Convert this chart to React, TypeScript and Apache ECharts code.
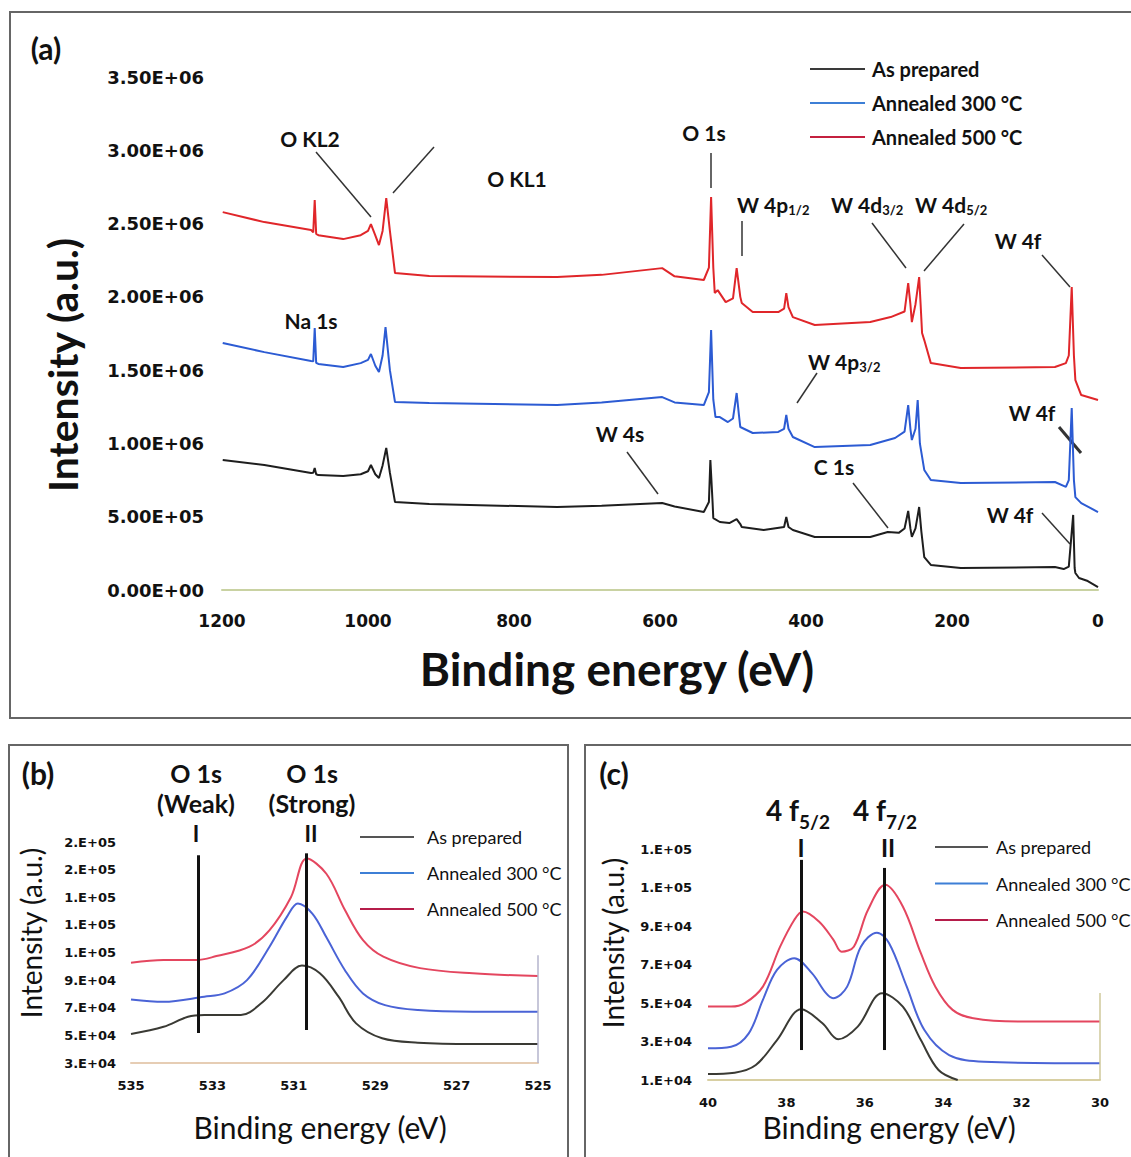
import React, { useEffect, useRef } from 'react';
import * as echarts from 'echarts';

// ---------- DATA ----------
const seriesNames = ['As prepared', 'Annealed 300 °C', 'Annealed 500 °C'];

// Panel (a) survey spectra: [binding energy eV, intensity]
const surveyAsPrepared: number[][] = [
  [1199, 0.887e6], [1142, 0.853e6], [1078, 0.798e6], [1075, 0.8e6], [1073, 0.832e6], [1071, 0.79e6],
  [1068, 0.784e6], [1034, 0.778e6], [1010, 0.79e6], [1000, 0.81e6], [996, 0.853e6], [990, 0.79e6],
  [985, 0.764e6], [980, 0.85e6], [975, 0.969e6], [970, 0.8e6], [963, 0.6e6], [916, 0.587e6],
  [741, 0.566e6], [680, 0.575e6], [597, 0.593e6], [580, 0.57e6], [540, 0.532e6], [533, 0.6e6],
  [531, 0.887e6], [528, 0.6e6], [527, 0.491e6], [518, 0.464e6], [505, 0.457e6], [495, 0.484e6],
  [490, 0.45e6], [488, 0.43e6], [458, 0.409e6], [430, 0.43e6], [427, 0.498e6], [424, 0.43e6],
  [418, 0.409e6], [388, 0.362e6], [312, 0.362e6], [288, 0.396e6], [273, 0.39e6], [265, 0.42e6],
  [260, 0.539e6], [257, 0.42e6], [255, 0.362e6], [250, 0.42e6], [245, 0.566e6], [242, 0.4e6],
  [238, 0.225e6], [229, 0.171e6], [188, 0.15e6], [59, 0.157e6], [47, 0.143e6], [40, 0.16e6],
  [34, 0.512e6], [32, 0.15e6], [31, 0.116e6], [26, 0.082e6], [14, 0.061e6], [0, 0.02e6],
];
const survey300: number[][] = [
  [1199, 1.685e6], [1142, 1.623e6], [1078, 1.562e6], [1075, 1.56e6], [1073, 1.787e6], [1071, 1.55e6],
  [1068, 1.542e6], [1034, 1.521e6], [1010, 1.548e6], [1000, 1.57e6], [996, 1.61e6], [990, 1.53e6],
  [985, 1.487e6], [980, 1.6e6], [976, 1.794e6], [970, 1.5e6], [963, 1.282e6], [916, 1.276e6],
  [741, 1.262e6], [680, 1.28e6], [597, 1.316e6], [580, 1.28e6], [540, 1.262e6], [533, 1.35e6],
  [530, 1.773e6], [527, 1.3e6], [524, 1.18e6], [518, 1.18e6], [507, 1.146e6], [500, 1.17e6],
  [495, 1.344e6], [492, 1.2e6], [490, 1.112e6], [473, 1.071e6], [438, 1.078e6], [430, 1.1e6],
  [427, 1.194e6], [424, 1.1e6], [418, 1.044e6], [388, 0.975e6], [312, 0.989e6], [278, 1.037e6],
  [265, 1.08e6], [260, 1.262e6], [257, 1.1e6], [255, 1.023e6], [250, 1.1e6], [247, 1.296e6],
  [244, 1.0e6], [238, 0.819e6], [229, 0.75e6], [188, 0.73e6], [59, 0.737e6], [44, 0.703e6],
  [40, 0.75e6], [36, 1.241e6], [33, 0.75e6], [31, 0.634e6], [23, 0.593e6], [0, 0.532e6],
];
const survey500: number[][] = [
  [1199, 2.578e6], [1142, 2.51e6], [1078, 2.456e6], [1075, 2.44e6], [1073, 2.66e6], [1071, 2.43e6],
  [1068, 2.421e6], [1034, 2.394e6], [1010, 2.421e6], [1000, 2.45e6], [996, 2.496e6], [990, 2.42e6],
  [985, 2.353e6], [980, 2.45e6], [975, 2.674e6], [970, 2.45e6], [963, 2.162e6], [916, 2.142e6],
  [741, 2.135e6], [680, 2.15e6], [597, 2.196e6], [580, 2.14e6], [540, 2.115e6], [533, 2.2e6],
  [530, 2.681e6], [527, 2.2e6], [525, 2.026e6], [521, 2.046e6], [510, 1.964e6], [500, 1.99e6],
  [495, 2.196e6], [490, 2.0e6], [488, 1.958e6], [473, 1.896e6], [438, 1.896e6], [430, 1.92e6],
  [427, 2.026e6], [424, 1.93e6], [418, 1.862e6], [388, 1.808e6], [312, 1.828e6], [284, 1.862e6],
  [265, 1.9e6], [260, 2.094e6], [257, 1.95e6], [255, 1.828e6], [250, 1.95e6], [245, 2.135e6],
  [243, 1.95e6], [241, 1.753e6], [238, 1.705e6], [229, 1.548e6], [188, 1.514e6], [59, 1.521e6],
  [44, 1.548e6], [40, 1.6e6], [36, 2.067e6], [33, 1.6e6], [31, 1.432e6], [23, 1.33e6], [0, 1.296e6],
];

// Panel (b) O 1s high resolution
const o1sAsPrepared: number[][] = [
  [535, 5.1e4], [534.2, 5.62e4], [533.6, 6.35e4], [533.2, 6.47e4], [532.3, 6.47e4], [531.8, 7.32e4],
  [531.25, 9.0e4], [530.8, 10.05e4], [530.36, 9.49e4], [529.9, 7.8e4], [529.47, 5.87e4],
  [528.83, 4.79e4], [527.95, 4.47e4], [526.6, 4.37e4], [525, 4.37e4],
];
const o1s300: number[][] = [
  [535, 7.6e4], [534.2, 7.43e4], [533.2, 7.8e4], [532.7, 8.04e4], [532.15, 9.0e4], [531.6, 11.4e4],
  [531.17, 13.58e4], [530.9, 14.55e4], [530.54, 13.8e4], [530.2, 12.1e4], [529.74, 9.7e4],
  [529.3, 8.04e4], [528.76, 7.19e4], [527.95, 6.83e4], [526.6, 6.71e4], [525, 6.71e4],
];
const o1s500: number[][] = [
  [535, 10.25e4], [534.2, 10.45e4], [533.4, 10.45e4], [532.9, 10.74e4], [532.1, 11.4e4],
  [531.6, 12.6e4], [531.07, 15.0e4], [530.68, 17.8e4], [530.2, 16.7e4], [529.74, 14.06e4],
  [529.3, 11.9e4], [528.8, 10.7e4], [527.9, 9.87e4], [526.6, 9.49e4], [525, 9.29e4],
];

// Panel (c) W 4f high resolution
const w4fAsPrepared: number[][] = [
  [40, 1.31e4], [39.32, 1.38e4], [38.78, 1.78e4], [38.24, 3.08e4], [37.62, 4.68e4], [37.08, 3.95e4],
  [36.68, 3.12e4], [36.18, 3.78e4], [35.56, 5.52e4], [35.03, 4.82e4], [34.57, 3.08e4],
  [34.12, 1.52e4], [33.63, 1.0e4],
];
const w4f300: number[][] = [
  [40, 2.65e4], [39.41, 2.73e4], [38.96, 3.43e4], [38.6, 5.17e4], [38.24, 6.73e4], [37.8, 7.34e4],
  [37.35, 6.56e4], [36.99, 5.52e4], [36.81, 5.26e4], [36.45, 5.86e4], [36.1, 7.94e4], [35.69, 8.67e4],
  [35.38, 8.12e4], [34.93, 5.86e4], [34.48, 3.6e4], [33.85, 2.3e4], [32.96, 1.95e4], [30, 1.87e4],
];
const w4f500: number[][] = [
  [40, 4.82e4], [39.41, 4.82e4], [39.06, 5.0e4], [38.6, 5.86e4], [38.16, 7.94e4], [37.8, 9.33e4],
  [37.58, 9.77e4], [37.17, 9.25e4], [36.8, 8.3e4], [36.59, 7.68e4], [36.28, 7.94e4], [35.92, 9.85e4],
  [35.48, 11.16e4], [35.03, 10.03e4], [34.57, 7.6e4], [34.2, 5.86e4], [33.76, 4.65e4],
  [33.23, 4.21e4], [32.07, 4.04e4], [30, 4.04e4],
];

// Tick labels
const yTickLabelsA = ['0.00E+00', '5.00E+05', '1.00E+06', '1.50E+06', '2.00E+06', '2.50E+06', '3.00E+06', '3.50E+06'];
const yTickLabelsB = ['3.E+04', '5.E+04', '7.E+04', '9.E+04', '1.E+05', '1.E+05', '1.E+05', '2.E+05', '2.E+05'];
const yTickLabelsC = ['1.E+04', '3.E+04', '5.E+04', '7.E+04', '9.E+04', '1.E+05', '1.E+05'];

// Reference (peak marker) lines in panels (b) and (c): [BE, from, to]
const o1sMarkers = [[533.35, 18.04e4, 5.17e4], [530.7, 18.18e4, 5.39e4]];
const w4fMarkers = [[37.62, 12.46e4, 2.56e4], [35.5, 12.04e4, 2.56e4]];

// ---------- STYLE ----------
const surveyColors = ['#1e1e1e', '#2c5bd3', '#e0262a'];
const hrColors = ['#3a3a34', '#4a63d6', '#e4465f'];
const legendColorsA = ['#3a3a3a', '#3d7fd6', '#c4203f'];
const legendColorsBC = ['#555555', '#3d7fd6', '#b51d4a'];
const TICK_FONT = 'DejaVu Sans';
const TITLE_FONT = 'Lato';

function App() {
  const ref = useRef<HTMLDivElement>(null);

  useEffect(() => {
    if (!ref.current) return;
    const chart = echarts.init(ref.current, undefined, { renderer: 'svg' });

    const fmt = (labels: string[], min: number, step: number) => (v: number) =>
      labels[Math.round((v - min) / step)] ?? '';

    const xAxisCommon = (gridIndex: number, min: number, max: number, interval: number, lineColor: string, fontSize: number, margin: number) => ({
      type: 'value', gridIndex, min, max, interval, inverse: true,
      axisLine: { show: true, lineStyle: { color: lineColor, width: 2 } },
      axisTick: { show: false },
      splitLine: { show: false },
      axisLabel: {
        fontFamily: TICK_FONT, fontWeight: 'bold', fontSize, color: '#111', margin,
        showMinLabel: true, showMaxLabel: true, formatter: (v: number) => String(v),
      },
    });
    const yAxisCommon = (gridIndex: number, min: number, max: number, interval: number, labels: string[], fontSize: number, margin: number) => ({
      type: 'value', gridIndex, min, max, interval,
      axisLine: { show: false },
      axisTick: { show: false },
      splitLine: { show: false },
      axisLabel: { fontFamily: TICK_FONT, fontWeight: 'bold', fontSize, color: '#111', margin, formatter: fmt(labels, min, interval), showMinLabel: true, showMaxLabel: true },
    });

    const mkSeries = (name: string, data: number[][], xi: number, color: string, smooth: number | boolean, extra: any = {}) => ({
      name, type: 'line', xAxisIndex: xi, yAxisIndex: xi, data, smooth,
      symbol: 'none', showSymbol: false, color,
      lineStyle: { color, width: 2 }, silent: true, ...extra,
    });

    const vLine = (pairs: number[][], color: string, width: number) => ({
      silent: true, symbol: 'none', label: { show: false },
      lineStyle: { color, width, type: 'solid' },
      data: pairs.map((p) => [{ coord: [p[0], p[1]] }, { coord: [p[0], p[2]] }]),
    });

    const T = (text: string, x: number, y: number, size: number, extra: any = {}) => ({
      type: 'text', x, y, silent: true,
      style: { text, fontFamily: TITLE_FONT, fontSize: size, fontWeight: 'bold', fill: '#111', align: 'center', verticalAlign: 'middle', ...extra },
    });
    const L = (x1: number, y1: number, x2: number, y2: number, w = 1.5) => ({
      type: 'line', silent: true, shape: { x1, y1, x2, y2 }, style: { stroke: '#333', lineWidth: w },
    });
    const subRich = (main: number, sub: number, pad: number) => ({
      m: { fontFamily: TITLE_FONT, fontSize: main, fontWeight: 'bold', fill: '#111' },
      s: { fontFamily: TITLE_FONT, fontSize: sub, fontWeight: 'bold', fill: '#111', padding: [pad, 0, 0, 0] },
    });
    const SubT = (mainText: string, subText: string, x: number, y: number, main: number, sub: number, pad: number) => ({
      type: 'text', x, y, silent: true,
      style: { text: `{m|${mainText}}{s|${subText}}`, rich: subRich(main, sub, pad), align: 'left', verticalAlign: 'middle' },
    });

    const legend = (left: number, top: number, itemWidth: number, itemGap: number, fontSize: number, weight: string, colors: string[], textPad: number) => ({
      show: true, orient: 'vertical', left, top, padding: 0, itemWidth, itemHeight: 2, itemGap, icon: 'rect',
      selectedMode: false,
      textStyle: { fontFamily: TITLE_FONT, fontSize, fontWeight: weight, color: '#111', padding: [0, 0, 0, textPad] },
      data: seriesNames.map((n, i) => ({ name: n, itemStyle: { color: colors[i] } })),
    });

    const option: any = {
      animation: false,
      backgroundColor: '#ffffff',
      grid: [
        { left: 222, top: 77, width: 876, height: 513 },
        { left: 131, top: 842, width: 407, height: 221 },
        { left: 708, top: 849.5, width: 392, height: 230.5 },
      ],
      xAxis: [
        xAxisCommon(0, 0, 1200, 200, '#c9d2a2', 17, 22),
        xAxisCommon(1, 525, 535, 2, '#e6cdb4', 13, 16),
        xAxisCommon(2, 30, 40, 2, '#d8cfa2', 13, 16),
      ],
      yAxis: [
        yAxisCommon(0, 0, 3.5e6, 5e5, yTickLabelsA, 18, 18),
        yAxisCommon(1, 3e4, 19e4, 2e4, yTickLabelsB, 13, 15),
        yAxisCommon(2, 1e4, 13e4, 2e4, yTickLabelsC, 13, 16),
      ],
      legend: [
        legend(810, 59, 55, 14, 20, 'bold', legendColorsA, 2),
        legend(360, 828, 54, 18, 18, 'normal', legendColorsBC, 8),
        legend(935, 838, 53, 18.5, 18, 'normal', legendColorsBC, 3),
      ],
      series: [
        mkSeries(seriesNames[0], surveyAsPrepared, 0, surveyColors[0], false, {
          markLine: vLine([[0, 0, 3.52e6]], '#d9a6ae', 1.5),
        }),
        mkSeries(seriesNames[1], survey300, 0, surveyColors[1], false),
        mkSeries(seriesNames[2], survey500, 0, surveyColors[2], false),
        mkSeries(seriesNames[0], o1sAsPrepared, 1, hrColors[0], 0.35, {
          markLine: vLine([[525, 3e4, 10.8e4]], '#b5b5cc', 1.5),
        }),
        mkSeries(seriesNames[1], o1s300, 1, hrColors[1], 0.35),
        mkSeries(seriesNames[2], o1s500, 1, hrColors[2], 0.35),
        mkSeries(seriesNames[0], w4fAsPrepared, 2, hrColors[0], 0.35, {
          markLine: vLine([[30, 1e4, 5.53e4]], '#cfc89a', 1.5),
        }),
        mkSeries(seriesNames[1], w4f300, 2, hrColors[1], 0.35),
        mkSeries(seriesNames[2], w4f500, 2, hrColors[2], 0.35),
        // thick peak marker lines in (b) and (c)
        {
          name: 'markers-b', type: 'line', xAxisIndex: 1, yAxisIndex: 1, data: [], silent: true,
          markLine: vLine(o1sMarkers, '#111', 3),
        },
        {
          name: 'markers-c', type: 'line', xAxisIndex: 2, yAxisIndex: 2, data: [], silent: true,
          markLine: vLine(w4fMarkers, '#111', 3),
        },
      ],
      graphic: [
        // panel borders
        { type: 'rect', silent: true, shape: { x: 10, y: 12, width: 1140, height: 706 }, style: { fill: 'none', stroke: '#666', lineWidth: 2 } },
        { type: 'rect', silent: true, shape: { x: 9, y: 745, width: 559, height: 430 }, style: { fill: 'none', stroke: '#666', lineWidth: 2 } },
        { type: 'rect', silent: true, shape: { x: 585, y: 745, width: 560, height: 430 }, style: { fill: 'none', stroke: '#666', lineWidth: 2 } },
        // panel letters
        T('(a)', 46, 48, 30),
        T('(b)', 38, 773, 30),
        T('(c)', 614, 773, 30),
        // axis titles
        T('Binding energy (eV)', 617, 668, 46),
        { ...T('Intensity (a.u.)', 62, 365, 41), rotation: Math.PI / 2 },
        T('Binding energy (eV)', 320, 1127, 30, { fontWeight: 'normal' }),
        { ...T('Intensity (a.u.)', 31, 933, 28, { fontWeight: 'normal' }), rotation: Math.PI / 2 },
        T('Binding energy (eV)', 889, 1127, 30, { fontWeight: 'normal' }),
        { ...T('Intensity (a.u.)', 613, 943, 28, { fontWeight: 'normal' }), rotation: Math.PI / 2 },
        // panel (a) annotations
        T('O KL2', 310, 138, 21),
        L(316, 152, 371, 217),
        L(434, 147, 393, 193),
        T('O KL1', 517, 178, 21),
        T('O 1s', 704, 132, 21),
        L(711, 153, 711, 188),
        SubT('W 4p', '1/2', 737, 204, 21, 13, 11),
        L(742, 221, 742, 256),
        SubT('W 4d', '3/2', 831, 204, 21, 13, 11),
        SubT('W 4d', '5/2', 915, 204, 21, 13, 11),
        L(872, 223, 906, 268),
        L(964, 224, 924, 271),
        T('W 4f', 1018, 240, 21),
        L(1042, 255, 1070, 287),
        T('Na 1s', 311, 320, 21),
        SubT('W 4p', '3/2', 808, 361, 21, 13, 11),
        L(817, 373, 797, 403),
        T('W 4f', 1032, 412, 21),
        L(1059, 427, 1081, 453, 3),
        T('W 4s', 620, 433, 21),
        L(627, 452, 658, 494),
        T('C 1s', 834, 466, 21),
        L(853, 483, 888, 528),
        T('W 4f', 1010, 514, 21),
        L(1042, 513, 1070, 544),
        // panel (b) annotations
        T('O 1s', 196, 773, 25),
        T('(Weak)', 196, 803, 25),
        T('O 1s', 312, 773, 25),
        T('(Strong)', 312, 803, 25),
        T('I', 196, 833, 22),
        T('II', 311, 833, 22),
        // panel (c) annotations
        SubT('4 f', '5/2', 766, 810, 28, 19, 22),
        SubT('4 f', '7/2', 853, 810, 28, 19, 22),
        T('I', 801, 847, 24),
        T('II', 888, 847, 24),
      ],
    };

    chart.setOption(option);
    return () => chart.dispose();
  }, []);

  return (
    <div
      ref={ref}
      style={{ position: 'absolute', left: 0, top: 0, width: 1131, height: 1157, background: '#fff' }}
    />
  );
}

export default App;
